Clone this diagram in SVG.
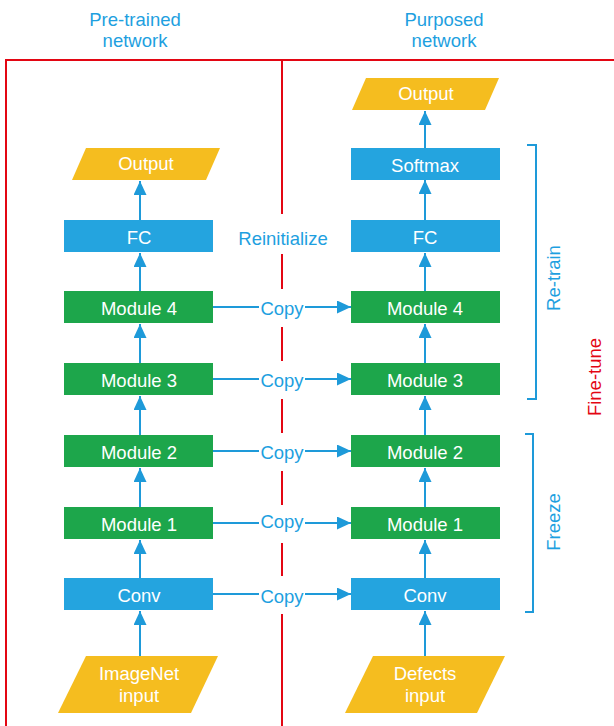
<svg xmlns="http://www.w3.org/2000/svg" width="614" height="726" viewBox="0 0 614 726">
<defs>
<style>
.t{font-family:"Liberation Sans",Arial,sans-serif;font-size:18.5px;text-anchor:middle;dominant-baseline:central}
.w{fill:#ffffff}
.lb{fill:#1E9FE0}
.rd{fill:#E30613}
.blue{fill:#24A4DF}
.green{fill:#1DA64B}
.yel{fill:#F5BD1F}
.conn{stroke:#1E9AD9;stroke-width:2;fill:none}
.red{stroke:#E30613;stroke-width:2;fill:none}
.br{stroke:#1E9AD9;stroke-width:2;fill:none}
</style>
<marker id="ah" markerWidth="15" markerHeight="13" refX="14" refY="6.5" orient="auto" markerUnits="userSpaceOnUse">
<path d="M0,0 L14,6.5 L0,13 Z" fill="#1E9AD9"/>
</marker>
</defs>
<rect width="614" height="726" fill="#ffffff"/>
<g id="frame">
<path class="red" d="M6,726 V60 H614"/>
<path class="red" d="M282,60 V726"/>
</g>
<g id="titles">
<text class="t lb" x="135" y="19">Pre-trained</text>
<text class="t lb" x="135" y="40">network</text>
<text class="t lb" x="444" y="19">Purposed</text>
<text class="t lb" x="444" y="40">network</text>
</g>
<g id="connectors">
<line class="conn" x1="140" y1="220" x2="140" y2="181" marker-end="url(#ah)"/>
<line class="conn" x1="140" y1="291" x2="140" y2="253" marker-end="url(#ah)"/>
<line class="conn" x1="140" y1="363" x2="140" y2="324" marker-end="url(#ah)"/>
<line class="conn" x1="140" y1="435" x2="140" y2="396" marker-end="url(#ah)"/>
<line class="conn" x1="140" y1="507" x2="140" y2="468" marker-end="url(#ah)"/>
<line class="conn" x1="140" y1="578" x2="140" y2="540" marker-end="url(#ah)"/>
<line class="conn" x1="140" y1="656" x2="140" y2="611" marker-end="url(#ah)"/>
<line class="conn" x1="425" y1="148" x2="425" y2="111" marker-end="url(#ah)"/>
<line class="conn" x1="425" y1="220" x2="425" y2="180" marker-end="url(#ah)"/>
<line class="conn" x1="425" y1="291" x2="425" y2="253" marker-end="url(#ah)"/>
<line class="conn" x1="425" y1="363" x2="425" y2="324" marker-end="url(#ah)"/>
<line class="conn" x1="425" y1="435" x2="425" y2="396" marker-end="url(#ah)"/>
<line class="conn" x1="425" y1="507" x2="425" y2="468" marker-end="url(#ah)"/>
<line class="conn" x1="425" y1="578" x2="425" y2="540" marker-end="url(#ah)"/>
<line class="conn" x1="425" y1="656" x2="425" y2="611" marker-end="url(#ah)"/>
<line class="conn" x1="213" y1="307" x2="351" y2="307" marker-end="url(#ah)"/>
<line class="conn" x1="213" y1="379" x2="351" y2="379" marker-end="url(#ah)"/>
<line class="conn" x1="213" y1="451" x2="351" y2="451" marker-end="url(#ah)"/>
<line class="conn" x1="213" y1="523" x2="351" y2="523" marker-end="url(#ah)"/>
<line class="conn" x1="213" y1="594" x2="351" y2="594" marker-end="url(#ah)"/>
</g>
<g id="labels">
<rect class="w" x="233" y="214" width="100" height="40"/>
<text class="t lb" x="283" y="238">Reinitialize</text>
<rect class="w" x="259" y="289" width="46" height="38"/>
<text class="t lb" x="282" y="308">Copy</text>
<rect class="w" x="259" y="361" width="46" height="38"/>
<text class="t lb" x="282" y="380">Copy</text>
<rect class="w" x="259" y="433" width="46" height="38"/>
<text class="t lb" x="282" y="452">Copy</text>
<rect class="w" x="259" y="505" width="46" height="38"/>
<text class="t lb" x="282" y="521">Copy</text>
<rect class="w" x="259" y="576" width="46" height="38"/>
<text class="t lb" x="282" y="596">Copy</text>
</g>
<g id="left-output"><polygon class="yel" points="86,148 220,148 206,180 72,180"/><text class="t w" x="146" y="163">Output</text></g>
<g id="left-fc"><rect class="blue" x="64" y="220" width="149" height="32"/><text class="t w" x="139" y="237">FC</text></g>
<g id="left-module4"><rect class="green" x="64" y="291" width="149" height="32"/><text class="t w" x="139" y="308">Module 4</text></g>
<g id="left-module3"><rect class="green" x="64" y="363" width="149" height="32"/><text class="t w" x="139" y="380">Module 3</text></g>
<g id="left-module2"><rect class="green" x="64" y="435" width="149" height="32"/><text class="t w" x="139" y="452">Module 2</text></g>
<g id="left-module1"><rect class="green" x="64" y="507" width="149" height="32"/><text class="t w" x="139" y="524">Module 1</text></g>
<g id="left-conv"><rect class="blue" x="64" y="578" width="149" height="32"/><text class="t w" x="139" y="595">Conv</text></g>
<g id="left-input"><polygon class="yel" points="86,656 218,656 191,713 58,713"/><text class="t w" x="139" y="673">ImageNet</text><text class="t w" x="139" y="695">input</text></g>
<g id="right-output"><polygon class="yel" points="366,78 499,78 485,110 352,110"/><text class="t w" x="426" y="93">Output</text></g>
<g id="right-softmax"><rect class="blue" x="351" y="148" width="149" height="32"/><text class="t w" x="425" y="165">Softmax</text></g>
<g id="right-fc"><rect class="blue" x="351" y="220" width="149" height="32"/><text class="t w" x="425" y="237">FC</text></g>
<g id="right-module4"><rect class="green" x="351" y="291" width="149" height="32"/><text class="t w" x="425" y="308">Module 4</text></g>
<g id="right-module3"><rect class="green" x="351" y="363" width="149" height="32"/><text class="t w" x="425" y="380">Module 3</text></g>
<g id="right-module2"><rect class="green" x="351" y="435" width="149" height="32"/><text class="t w" x="425" y="452">Module 2</text></g>
<g id="right-module1"><rect class="green" x="351" y="507" width="149" height="32"/><text class="t w" x="425" y="524">Module 1</text></g>
<g id="right-conv"><rect class="blue" x="351" y="578" width="149" height="32"/><text class="t w" x="425" y="595">Conv</text></g>
<g id="right-input"><polygon class="yel" points="373,656 505,656 477,713 345,713"/><text class="t w" x="425" y="673">Defects</text><text class="t w" x="425" y="695">input</text></g>
<g id="brackets">
<path class="br" d="M527,145 H536 V399 H527"/>
<text class="t lb" transform="translate(553,278) rotate(-90)">Re-train</text>
<path class="br" d="M525,434 H533 V612 H525"/>
<text class="t lb" transform="translate(553,522) rotate(-90)">Freeze</text>
<text class="t rd" transform="translate(594,377) rotate(-90)">Fine-tune</text>
</g>
</svg>
